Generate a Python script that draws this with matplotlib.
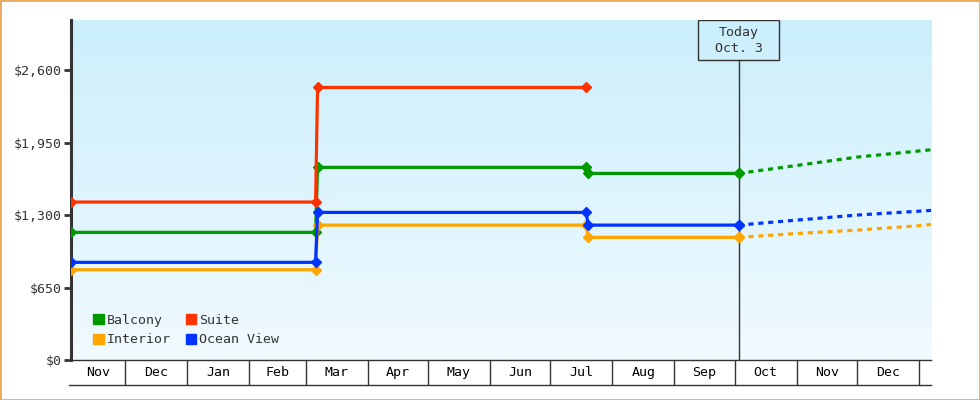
from datetime import datetime, timedelta

import matplotlib
matplotlib.use("Agg")
import matplotlib.dates as mdates
import matplotlib.pyplot as plt
import matplotlib.transforms as mtransforms
import numpy as np
import pandas as pd
from matplotlib.colors import LinearSegmentedColormap
from matplotlib.patches import Patch, Rectangle

plt.rcParams["font.family"] = ["DejaVu Sans Mono"]

# price history (step changes) for each cabin type
step_dates = ["2022-11-04", "2023-03-06", "2023-03-07", "2023-07-19", "2023-07-20", "2023-10-03"]
balcony = [1145, 1145, 1728, 1728, 1674, 1674]
interior = [810, 810, 1210, 1210, 1100, 1100]
ocean_view = [876, 876, 1324, 1324, 1210, 1210]

suite_dates = ["2022-11-04", "2023-03-06", "2023-03-07", "2023-07-19"]
suite = [1417, 1417, 2445, 2445]

# forecast after today
forecast_dates = ["2023-10-03", "2023-11-01", "2023-12-01", "2024-01-01", "2024-01-07"]
balcony_fc = [1674, 1745, 1820, 1875, 1886]
interior_fc = [1100, 1135, 1165, 1205, 1216]
ocean_view_fc = [1210, 1255, 1300, 1335, 1342]

today = "2023-10-03"
today_label = "Today\nOct. 3"
x_start, x_end = "2022-11-04", "2024-01-07"
y_ticks = [0, 650, 1300, 1950, 2600]

colors = {"Balcony": "#009900", "Suite": "#ff3300",
          "Interior": "#ffa500", "Ocean View": "#0033ff"}
dark = "#333333"

fig = plt.figure(figsize=(9.8, 4), dpi=100)
ax = fig.add_axes([71 / 980, 40 / 400, 860 / 980, 340 / 400])

# background gradient
cmap = LinearSegmentedColormap.from_list("bg", ["#f1faff", "#cbeffc"])
ax.imshow(np.linspace(0, 1, 256).reshape(-1, 1), cmap=cmap, origin="lower",
          extent=[0, 1, 0, 1], transform=ax.transAxes, aspect="auto", zorder=0)

sd = pd.to_datetime(step_dates)
fd = pd.to_datetime(forecast_dates)
series = [("Balcony", sd, balcony), ("Interior", sd, interior),
          ("Ocean View", sd, ocean_view), ("Suite", pd.to_datetime(suite_dates), suite)]
for name, d, v in series:
    ax.plot(d, v, color=colors[name], lw=2.3, marker="D", ms=5.5,
            solid_capstyle="butt", zorder=3)

for name, v in [("Balcony", balcony_fc), ("Interior", interior_fc), ("Ocean View", ocean_view_fc)]:
    ax.plot(fd, v, color=colors[name], lw=2.3, dashes=(1.6, 1.5), zorder=3)
    ax.plot(fd[:1], v[:1], color=colors[name], marker="D", ms=5.5, zorder=4)

x0, x1 = pd.Timestamp(x_start), pd.Timestamp(x_end)
ax.set_xlim(x0, x1)
ax.set_ylim(0, 3050)

# today marker
t = pd.Timestamp(today)
ax.axvline(t, ymax=0.882, color=dark, lw=1, zorder=2)
blend = mtransforms.blended_transform_factory(ax.transData, ax.transAxes)
ax.add_patch(Rectangle((mdates.date2num(t - timedelta(days=20)), 0.882),
                       40, 0.118, transform=blend, fill=False,
                       edgecolor=dark, lw=1, zorder=5))
ax.text(t, 0.941, today_label, transform=blend, ha="center", va="center",
        fontsize=9.5, color=dark, linespacing=1.3, zorder=5)

# y axis
ax.set_yticks(y_ticks)
ax.set_yticklabels([f"${v:,}" for v in y_ticks])
ax.tick_params(axis="y", length=5, width=2, color=dark, labelsize=9.5,
               labelcolor=dark, pad=2)
for s in ["top", "right"]:
    ax.spines[s].set_visible(False)
ax.spines["left"].set_color(dark)
ax.spines["left"].set_linewidth(2.2)
ax.spines["bottom"].set_color(dark)
ax.spines["bottom"].set_linewidth(1)

# month boxes under the axis
months = pd.date_range("2022-11-01", "2024-02-01", freq="MS")
bounds = [m for m in months if x0 < m < x1]
ax.set_xticks(bounds)
ax.set_xticklabels([])
ax.tick_params(axis="x", length=18, width=1, color=dark, direction="out")
row_y = -25 / 340
ax.plot([-0.002, 1], [row_y, row_y], transform=ax.transAxes, color=dark,
        lw=1, clip_on=False)
for a, b in zip(months[:-1], months[1:]):
    lo, hi = max(a, x0), min(b, x1)
    if (hi - lo).days < 20:
        continue
    ax.text(lo + (hi - lo) / 2, row_y / 2, a.strftime("%b"), transform=blend,
            ha="center", va="center", fontsize=9.5, color="black")

# legend
handles = [Patch(color=colors[n], label=n) for n in ["Balcony", "Interior", "Suite", "Ocean View"]]
ax.legend(handles=handles, ncol=2, loc="lower left", bbox_to_anchor=(0.012, 0.005),
          frameon=False, handlelength=0.8, handleheight=0.8, handletextpad=0.2,
          columnspacing=1.15, labelspacing=0.5, fontsize=9.5, labelcolor=dark)

fig.patches.append(Rectangle((0, 0), 1, 1, transform=fig.transFigure,
                             fill=False, edgecolor="#e8a860", lw=2))

fig.savefig("out.png", dpi=100)
